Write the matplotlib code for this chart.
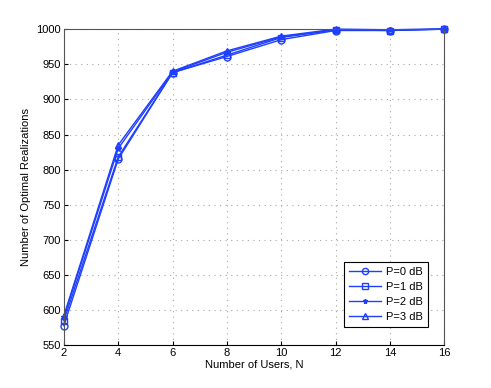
import matplotlib.pyplot as plt

plt.rcParams['font.family'] = ['Liberation Sans', 'DejaVu Sans']
plt.rcParams['font.size'] = 8

users = [2, 4, 6, 8, 10, 12, 14, 16]
p0 = [578, 815, 938, 961, 985, 998, 998, 1000]
p1 = [585, 818, 938, 963, 988, 999, 998, 1000]
p2 = [590, 830, 939, 967, 989, 999, 999, 1000]
p3 = [592, 835, 940, 969, 990, 1000, 999, 1000]
labels = ['P=0 dB', 'P=1 dB', 'P=2 dB', 'P=3 dB']
markers = ['o', 's', '*', '^']

blue = '#1f3fff'

fig = plt.figure(figsize=(4.91, 3.88), dpi=100)
ax = fig.add_axes([0.13, 0.11, 0.775, 0.815])

for series, m, lab in zip([p0, p1, p2, p3], markers, labels):
    ax.plot(users, series, marker=m, color=blue, linewidth=1.0,
            markersize=5 if m != '*' else 4,
            markerfacecolor='none' if m != '*' else blue,
            markeredgewidth=1.0, label=lab, clip_on=False)

ax.set_xlim(2, 16)
ax.set_ylim(550, 1000)
ax.set_xticks(users)
ax.set_yticks(range(550, 1001, 50))
ax.grid(True, linestyle=(0, (1, 4)), color='#a8a8a8', linewidth=0.8)
ax.tick_params(direction='in', length=3, colors='black', pad=2)
for s in ax.spines.values():
    s.set_color('#555555')
ax.spines['bottom'].set_color('black')
ax.set_xlabel('Number of Users, N', labelpad=1)
ax.set_ylabel('Number of Optimal Realizations', labelpad=4)

leg = ax.legend(loc='lower right', bbox_to_anchor=(0.958, 0.057),
                fancybox=False, edgecolor='black', framealpha=1,
                borderaxespad=0, handlelength=2.9, handletextpad=0.5,
                labelspacing=0.45, borderpad=0.45, markerscale=0.9)
leg.get_frame().set_linewidth(0.8)

fig.savefig('out.png', dpi=100)
